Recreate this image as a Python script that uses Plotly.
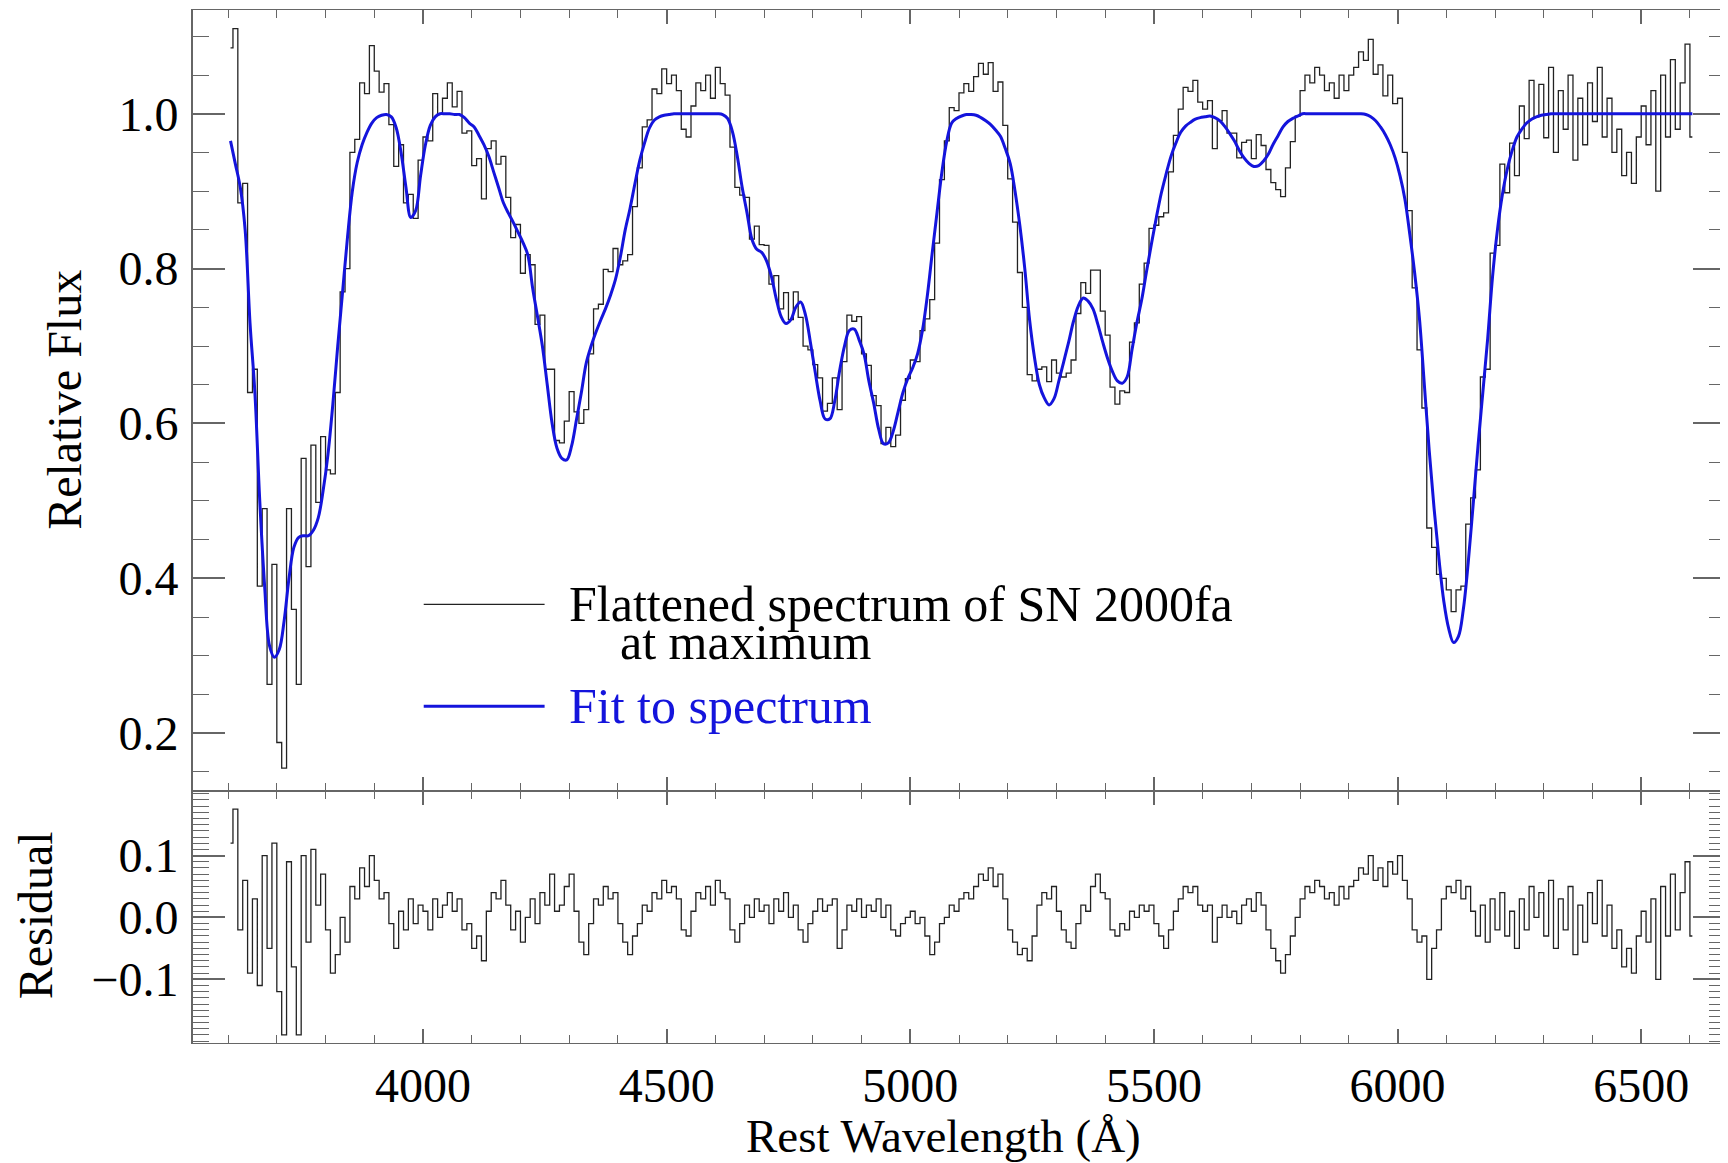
import numpy as np
import plotly.graph_objects as go
from plotly.subplots import make_subplots

# Rest wavelength grid (Å), 10 Å sampling
wavelength = np.arange(3605, 6606, 10)

# Fit to spectrum
fit = [
    0.965, 0.935, 0.905, 0.85, 0.73, 0.64, 0.50, 0.39, 0.313, 0.298,
    0.308, 0.345, 0.40, 0.44, 0.453, 0.455, 0.455, 0.462, 0.478, 0.513,
    0.56, 0.625, 0.70, 0.77, 0.84, 0.90, 0.937, 0.96, 0.976, 0.988,
    0.995, 0.998, 0.999, 0.996, 0.982, 0.95, 0.905, 0.866, 0.875, 0.92,
    0.96, 0.985, 0.996, 1.0, 1.0, 1.0, 0.999, 0.999, 0.995, 0.988,
    0.983, 0.972, 0.96, 0.945, 0.925, 0.905, 0.885, 0.872, 0.86, 0.847,
    0.834, 0.818, 0.775, 0.738, 0.70, 0.65, 0.60, 0.568, 0.555, 0.553,
    0.571, 0.605, 0.64, 0.678, 0.70, 0.718, 0.734, 0.749, 0.766, 0.786,
    0.815, 0.85, 0.878, 0.91, 0.94, 0.963, 0.982, 0.992, 0.996, 0.998,
    0.999, 1.0, 1.0, 1.0, 1.0, 1.0, 1.0, 1.0, 1.0, 1.0,
    1.0, 0.999, 0.994, 0.977, 0.945, 0.905, 0.872, 0.838, 0.825, 0.821,
    0.81, 0.79, 0.761, 0.738, 0.729, 0.734, 0.75, 0.757, 0.74, 0.705,
    0.666, 0.629, 0.606, 0.606, 0.629, 0.668, 0.70, 0.72, 0.722, 0.708,
    0.69, 0.655, 0.626, 0.593, 0.574, 0.575, 0.59, 0.615, 0.64, 0.658,
    0.672, 0.69, 0.72, 0.765, 0.82, 0.873, 0.925, 0.965, 0.988, 0.994,
    0.997, 0.999, 0.999, 0.998, 0.995, 0.991, 0.986, 0.979, 0.971, 0.955,
    0.936, 0.90, 0.855, 0.80, 0.733, 0.685, 0.65, 0.633, 0.624, 0.632,
    0.655, 0.68, 0.705, 0.732, 0.752, 0.762, 0.758, 0.748, 0.728, 0.705,
    0.684, 0.667, 0.655, 0.652, 0.66, 0.695, 0.73, 0.76, 0.797, 0.832,
    0.866, 0.897, 0.922, 0.945, 0.962, 0.976, 0.984, 0.989, 0.993, 0.995,
    0.996, 0.997, 0.995, 0.991, 0.984, 0.975, 0.965, 0.953, 0.943, 0.936,
    0.932, 0.933, 0.939, 0.948, 0.961, 0.972, 0.983, 0.99, 0.994, 0.997,
    1.0, 1.0, 1.0, 1.0, 1.0, 1.0, 1.0, 1.0, 1.0, 1.0,
    1.0, 1.0, 1.0, 0.999, 0.996, 0.991, 0.983, 0.973, 0.96, 0.943,
    0.92, 0.89, 0.845, 0.795, 0.735, 0.65, 0.565, 0.49, 0.425, 0.37,
    0.335, 0.317, 0.325, 0.36, 0.42, 0.494, 0.57, 0.64, 0.71, 0.79,
    0.85, 0.895, 0.928, 0.952, 0.97, 0.98, 0.988, 0.993, 0.996, 0.998,
    0.999, 1.0, 1.0, 1.0, 1.0, 1.0, 1.0, 1.0, 1.0, 1.0,
    1.0, 1.0, 1.0, 1.0, 1.0, 1.0, 1.0, 1.0, 1.0, 1.0,
    1.0, 1.0, 1.0, 1.0, 1.0, 1.0, 1.0, 1.0, 1.0, 1.0,
    1.0,
]

# Flattened spectrum of SN 2000fa at maximum
flux = [
    1.085, 1.11, 0.885, 0.91, 0.64, 0.67, 0.39, 0.49, 0.263, 0.418,
    0.188, 0.155, 0.49, 0.36, 0.263, 0.555, 0.415, 0.572, 0.498, 0.583,
    0.54, 0.535, 0.64, 0.77, 0.80, 0.95, 0.967, 1.04, 1.026, 1.088,
    1.055, 1.028, 1.039, 0.986, 0.932, 0.96, 0.885, 0.896, 0.865, 0.94,
    0.97, 0.965, 1.026, 1.0, 1.02, 1.04, 1.009, 1.029, 0.975, 0.978,
    0.933, 0.942, 0.89, 0.955, 0.965, 0.935, 0.945, 0.892, 0.84, 0.857,
    0.794, 0.818, 0.805, 0.728, 0.74, 0.67, 0.67, 0.578, 0.575, 0.603,
    0.641, 0.615, 0.60, 0.618, 0.69, 0.748, 0.754, 0.799, 0.796, 0.826,
    0.805, 0.81, 0.818, 0.88, 0.93, 0.983, 0.992, 1.032, 1.026, 1.058,
    1.039, 1.05, 1.03, 0.98, 0.97, 1.01, 1.04, 1.03, 1.05, 1.02,
    1.06, 1.039, 1.024, 0.957, 0.905, 0.895, 0.892, 0.838, 0.855, 0.831,
    0.83, 0.78, 0.791, 0.748, 0.769, 0.734, 0.77, 0.737, 0.70, 0.695,
    0.676, 0.659, 0.616, 0.626, 0.659, 0.618, 0.68, 0.74, 0.732, 0.738,
    0.69, 0.675, 0.636, 0.623, 0.574, 0.595, 0.57, 0.585, 0.63, 0.658,
    0.682, 0.68, 0.72, 0.735, 0.76, 0.833, 0.915, 0.965, 1.008, 1.004,
    1.027, 1.039, 1.029, 1.048, 1.065, 1.051, 1.066, 1.029, 1.041, 0.985,
    0.916, 0.86, 0.795, 0.75, 0.663, 0.655, 0.67, 0.673, 0.654, 0.682,
    0.665, 0.66, 0.665, 0.682, 0.742, 0.782, 0.768, 0.798, 0.798, 0.745,
    0.714, 0.647, 0.625, 0.642, 0.64, 0.705, 0.73, 0.78, 0.807, 0.852,
    0.856, 0.867, 0.872, 0.925, 0.972, 1.006, 1.034, 1.029, 1.043, 1.015,
    1.006, 1.017, 0.955, 0.991, 1.004, 0.975, 0.975, 0.943, 0.963, 0.966,
    0.942, 0.973, 0.959, 0.928, 0.911, 0.902, 0.893, 0.93, 0.964, 0.997,
    1.03, 1.05, 1.04, 1.06, 1.05, 1.03, 1.04, 1.02, 1.05, 1.03,
    1.05, 1.06, 1.08, 1.069, 1.096, 1.051, 1.063, 1.023, 1.05, 1.013,
    1.02, 0.95, 0.875, 0.775, 0.695, 0.62, 0.465, 0.44, 0.405, 0.40,
    0.385, 0.357, 0.385, 0.39, 0.47, 0.504, 0.54, 0.66, 0.67, 0.82,
    0.83, 0.935, 0.898, 0.962, 0.92, 1.01, 0.968, 1.043, 0.996, 1.038,
    0.969, 1.06, 0.95, 1.03, 0.98, 1.05, 0.94, 1.02, 0.96, 1.04,
    0.99, 1.06, 0.97, 1.02, 0.95, 0.98, 0.92, 0.95, 0.91, 0.97,
    1.01, 0.96, 1.03, 0.90, 1.05, 0.97, 1.07, 0.98, 1.04, 1.09,
    0.97,
]

n = min(len(wavelength), len(fit), len(flux))
wavelength = wavelength[:n]
fit = np.array(fit[:n])
flux = np.array(flux[:n])
residual = flux - fit  # residual = spectrum - fit

x_tickvals = [4000, 4500, 5000, 5500, 6000, 6500]
flux_tickvals = [0.2, 0.4, 0.6, 0.8, 1.0]
resid_tickvals = [-0.1, 0.0, 0.1]
resid_ticktext = ["\u22120.1", "0.0", "0.1"]

FONT = "Liberation Serif"
FS = 48
AXC = "#666666"
SPEC = "#222222"
BLUE = "#1414dc"

fig = make_subplots(rows=2, cols=1, shared_xaxes=True, vertical_spacing=0,
                    row_heights=[0.7563, 0.2437])

fig.add_trace(go.Scatter(x=wavelength, y=flux, mode="lines",
                         line=dict(color=SPEC, width=1.3, shape="hvh"),
                         showlegend=False), row=1, col=1)
fig.add_trace(go.Scatter(x=wavelength, y=fit, mode="lines",
                         line=dict(color=BLUE, width=3, shape="spline"),
                         showlegend=False), row=1, col=1)
fig.add_trace(go.Scatter(x=wavelength, y=residual, mode="lines",
                         line=dict(color=SPEC, width=1.3, shape="hvh"),
                         showlegend=False), row=2, col=1)

common_x = dict(range=[3528, 6672], showline=True, linecolor=AXC, linewidth=1.2,
                mirror="allticks", ticks="inside", ticklen=14, tickwidth=1.5,
                tickcolor=AXC, tickvals=x_tickvals, showgrid=False, zeroline=False,
                minor=dict(dtick=100, tick0=4000, ticks="inside", ticklen=8,
                           tickwidth=1.2, tickcolor=AXC, showgrid=False))
fig.update_xaxes(**common_x, showticklabels=False, row=1, col=1)
fig.update_xaxes(**common_x, showticklabels=True,
                 tickfont=dict(family=FONT, size=FS, color="black"),
                 ticklabelstandoff=0, row=2, col=1)

fig.update_yaxes(range=[0.125, 1.134], showline=True, linecolor=AXC, linewidth=2,
                 mirror="allticks", ticks="inside", ticklen=32, tickwidth=1.5,
                 tickcolor=AXC, tickvals=flux_tickvals, tickformat=".1f",
                 tickfont=dict(family=FONT, size=FS, color="black"),
                 ticklabelstandoff=3, showgrid=False, zeroline=False,
                 minor=dict(dtick=0.05, tick0=0.0, ticks="inside", ticklen=16,
                            tickwidth=1.2, tickcolor=AXC, showgrid=False),
                 row=1, col=1)
fig.update_yaxes(range=[-0.203, 0.204], showline=True, linecolor=AXC, linewidth=2,
                 mirror="allticks", ticks="inside", ticklen=32, tickwidth=1.5,
                 tickcolor=AXC, tickvals=resid_tickvals, ticktext=resid_ticktext,
                 tickfont=dict(family=FONT, size=FS, color="black"),
                 ticklabelstandoff=3, showgrid=False, zeroline=False,
                 minor=dict(dtick=0.01, tick0=0.0, ticks="inside", ticklen=16,
                            tickwidth=1, tickcolor=AXC, showgrid=False),
                 row=2, col=1)

# Legend keys (paper coordinates)
fig.add_shape(type="line", xref="paper", yref="paper", x0=0.1506, x1=0.2295,
              y0=0.4246, y1=0.4246, line=dict(color=SPEC, width=1.2))
fig.add_shape(type="line", xref="paper", yref="paper", x0=0.1506, x1=0.2295,
              y0=0.3259, y1=0.3259, line=dict(color=BLUE, width=3))

LFS = 50
ann = dict(xref="paper", yref="paper", showarrow=False, xanchor="left",
           yanchor="middle")
fig.add_annotation(text="Flattened spectrum of SN 2000fa", x=0.2440, y=0.4246,
                   font=dict(family=FONT, size=LFS, color="black"), **ann)
fig.add_annotation(text="at maximum", x=0.2775, y=0.3880,
                   font=dict(family=FONT, size=LFS, color="black"), **ann)
fig.add_annotation(text="Fit to spectrum", x=0.2440, y=0.3259,
                   font=dict(family=FONT, size=LFS, color=BLUE), **ann)

# Axis titles
fig.add_annotation(text="Relative Flux", x=-0.0841, y=0.6228, textangle=-90,
                   xref="paper", yref="paper", showarrow=False,
                   xanchor="center", yanchor="middle",
                   font=dict(family=FONT, size=FS, color="black"))
fig.add_annotation(text="Residual", x=-0.1030, y=0.1238, textangle=-90,
                   xref="paper", yref="paper", showarrow=False,
                   xanchor="center", yanchor="middle",
                   font=dict(family=FONT, size=FS, color="black"))
fig.add_annotation(text="Rest Wavelength (\u00c5)", x=0.4896, y=-0.0905,
                   xref="paper", yref="paper", showarrow=False,
                   xanchor="center", yanchor="middle",
                   font=dict(family=FONT, size=47, color="black"))

# The page body has an 8 px margin: size and margins compensate for it
fig.update_layout(width=1720, height=1155,
                  margin=dict(l=185, r=1, t=1, b=120),
                  paper_bgcolor="white", plot_bgcolor="white",
                  showlegend=False)

fig.write_html("out.html")
